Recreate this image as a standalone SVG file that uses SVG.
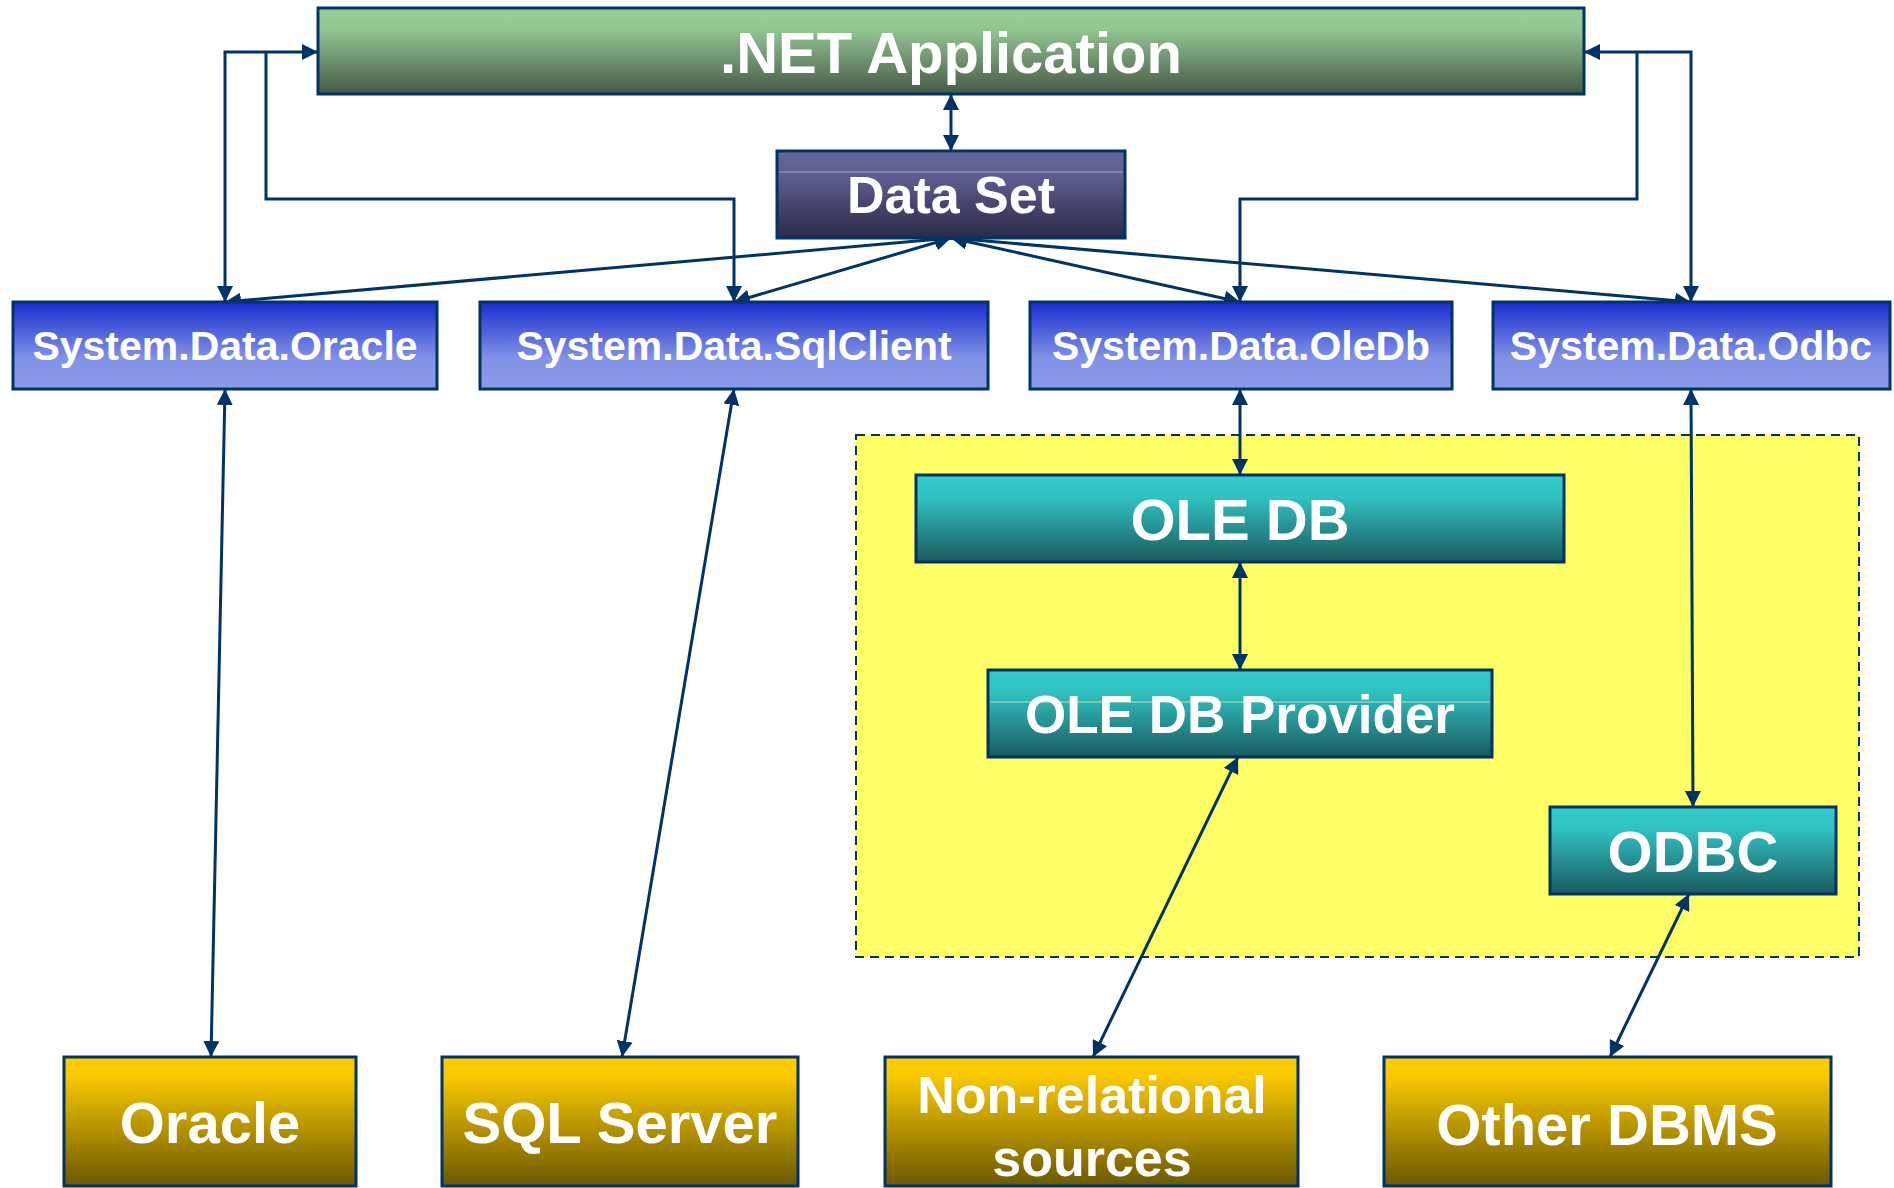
<svg xmlns="http://www.w3.org/2000/svg" width="1894" height="1188" viewBox="0 0 1894 1188">
<style>
.box{stroke:#003366;stroke-width:3}
.t{font-family:"Liberation Sans",Arial,sans-serif;font-weight:bold;fill:#ffffff;text-anchor:middle}
.c{fill:none;stroke:#003366;stroke-width:3}
</style>
<defs>
<linearGradient id="gGreen" x1="0" y1="0" x2="0" y2="1">
<stop offset="0" stop-color="#9ACD98"/><stop offset="0.25" stop-color="#93C592"/><stop offset="1" stop-color="#465846"/>
</linearGradient>
<linearGradient id="gPurple" x1="0" y1="0" x2="0" y2="1">
<stop offset="0" stop-color="#666699"/><stop offset="0.3" stop-color="#5E5C8E"/><stop offset="1" stop-color="#2C2A48"/>
</linearGradient>
<linearGradient id="gBlue" x1="0" y1="0" x2="0" y2="1">
<stop offset="0" stop-color="#1A2ECF"/><stop offset="0.65" stop-color="#8292E6"/><stop offset="1" stop-color="#8B9BE9"/>
</linearGradient>
<linearGradient id="gTeal" x1="0" y1="0" x2="0" y2="1">
<stop offset="0" stop-color="#33CCCC"/><stop offset="0.25" stop-color="#31C2C2"/><stop offset="1" stop-color="#1A5A5E"/>
</linearGradient>
<linearGradient id="gGold" x1="0" y1="0" x2="0" y2="1">
<stop offset="0" stop-color="#FFCC00"/><stop offset="0.15" stop-color="#F8C800"/><stop offset="1" stop-color="#6C5800"/>
</linearGradient>
<marker id="arr" viewBox="0 0 16 16" refX="16" refY="8" markerWidth="16" markerHeight="16" markerUnits="userSpaceOnUse" orient="auto-start-reverse">
<path d="M0,0 L16,8 L0,16 z" fill="#003366"/>
</marker>
</defs>
<rect width="1894" height="1188" fill="#ffffff"/>

<g id="container">
<rect x="856" y="435" width="1003" height="522" fill="#FFFF66" stroke="#003366" stroke-width="2" stroke-dasharray="9,6"/>
</g>

<g id="connectors">
<path class="c" d="M951,94 V151" marker-start="url(#arr)" marker-end="url(#arr)"/>
<path class="c" d="M318,52 H225 V302" marker-start="url(#arr)" marker-end="url(#arr)"/>
<path class="c" d="M266,52 V199 H734 V302" marker-end="url(#arr)"/>
<path class="c" d="M1584,52 H1691 V302" marker-start="url(#arr)" marker-end="url(#arr)"/>
<path class="c" d="M1637,52 V199 H1240 V302" marker-end="url(#arr)"/>
<path class="c" d="M951,238 L225,302" marker-start="url(#arr)" marker-end="url(#arr)"/>
<path class="c" d="M951,238 L734,302" marker-start="url(#arr)" marker-end="url(#arr)"/>
<path class="c" d="M951,238 L1240,302" marker-start="url(#arr)" marker-end="url(#arr)"/>
<path class="c" d="M951,238 L1691,302" marker-start="url(#arr)" marker-end="url(#arr)"/>
<path class="c" d="M225,389 L211,1057" marker-start="url(#arr)" marker-end="url(#arr)"/>
<path class="c" d="M734,389 L622,1057" marker-start="url(#arr)" marker-end="url(#arr)"/>
<path class="c" d="M1240,389 V475" marker-start="url(#arr)" marker-end="url(#arr)"/>
<path class="c" d="M1240,562 V670" marker-start="url(#arr)" marker-end="url(#arr)"/>
<path class="c" d="M1238,757 L1093,1057" marker-start="url(#arr)" marker-end="url(#arr)"/>
<path class="c" d="M1691,389 L1693,807" marker-start="url(#arr)" marker-end="url(#arr)"/>
<path class="c" d="M1689,894 L1610,1057" marker-start="url(#arr)" marker-end="url(#arr)"/>
</g>

<g id="net-app">
<rect class="box" x="318" y="8" width="1266" height="86" fill="url(#gGreen)"/>
<text class="t" x="951" y="73" font-size="58">.NET Application</text>
</g>
<g id="data-set">
<rect class="box" x="777" y="151" width="348" height="87" fill="url(#gPurple)"/>
<line x1="779" y1="172" x2="1123" y2="172" stroke="#A8A8D0" stroke-width="1"/>
<text class="t" x="951" y="213" font-size="52">Data Set</text>
</g>
<g id="sd-oracle">
<rect class="box" x="13" y="302" width="424" height="87" fill="url(#gBlue)"/>
<text class="t" x="225" y="360" font-size="41">System.Data.Oracle</text>
</g>
<g id="sd-sqlclient">
<rect class="box" x="480" y="302" width="508" height="87" fill="url(#gBlue)"/>
<text class="t" x="734" y="360" font-size="41">System.Data.SqlClient</text>
</g>
<g id="sd-oledb">
<rect class="box" x="1030" y="302" width="422" height="87" fill="url(#gBlue)"/>
<text class="t" x="1241" y="360" font-size="41">System.Data.OleDb</text>
</g>
<g id="sd-odbc">
<rect class="box" x="1493" y="302" width="397" height="87" fill="url(#gBlue)"/>
<text class="t" x="1691" y="360" font-size="41">System.Data.Odbc</text>
</g>
<g id="ole-db">
<rect class="box" x="916" y="475" width="648" height="87" fill="url(#gTeal)"/>
<text class="t" x="1240" y="540" font-size="58">OLE DB</text>
</g>
<g id="ole-db-provider">
<rect class="box" x="988" y="670" width="504" height="87" fill="url(#gTeal)"/>
<line x1="990" y1="702" x2="1490" y2="702" stroke="#B8E8A8" stroke-width="1"/>
<text class="t" x="1240" y="733" font-size="53">OLE DB Provider</text>
</g>
<g id="odbc">
<rect class="box" x="1550" y="807" width="286" height="87" fill="url(#gTeal)"/>
<text class="t" x="1693" y="872" font-size="58">ODBC</text>
</g>
<g id="oracle">
<rect class="box" x="64" y="1057" width="292" height="129" fill="url(#gGold)"/>
<text class="t" x="210" y="1143" font-size="58">Oracle</text>
</g>
<g id="sql-server">
<rect class="box" x="442" y="1057" width="356" height="129" fill="url(#gGold)"/>
<text class="t" x="620" y="1143" font-size="58">SQL Server</text>
</g>
<g id="non-relational">
<rect class="box" x="885" y="1057" width="413" height="129" fill="url(#gGold)"/>
<text class="t" x="1092" y="1113" font-size="52">Non-relational</text>
<text class="t" x="1092" y="1176" font-size="52">sources</text>
</g>
<g id="other-dbms">
<rect class="box" x="1384" y="1057" width="447" height="129" fill="url(#gGold)"/>
<text class="t" x="1607" y="1145" font-size="58">Other DBMS</text>
</g>
</svg>
